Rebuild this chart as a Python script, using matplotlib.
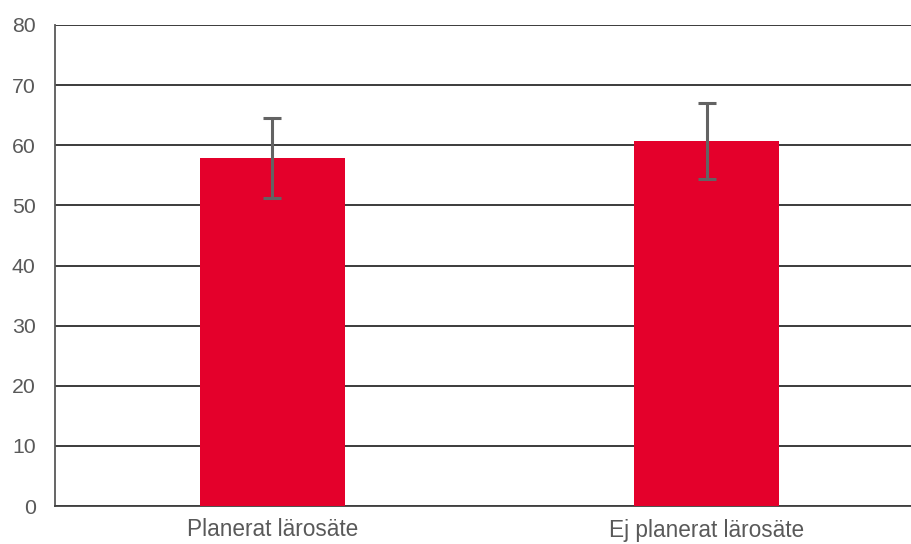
import matplotlib
matplotlib.use('Agg')
import matplotlib.pyplot as plt

# Data
kategorier = ['Planerat lärosäte', 'Ej planerat lärosäte']
medel = [57.9, 60.7]
fel = [6.6, 6.3]
yticks = [0, 10, 20, 30, 40, 50, 60, 70, 80]

plt.rcParams['font.family'] = ['Liberation Sans', 'DejaVu Sans']

fig = plt.figure(figsize=(9.12, 5.44), dpi=100)
# axes reaches past the right edge, like the original
ax = fig.add_axes([55 / 912, 1 - 506 / 544, 869 / 912, 481 / 544])

pos = range(len(kategorier))
ax.bar(pos, medel, width=0.334, color='#E4002B', zorder=3)
ax.errorbar(pos, medel, yerr=fel, fmt='none', ecolor='#636363',
            elinewidth=2.2, capsize=6.5, capthick=2.2, zorder=4)

ax.set_xlim(-0.5, 1.5)
ax.set_ylim(0, 80)
ax.set_yticks(yticks)
ax.set_xticks(list(pos))
ax.set_xticklabels(kategorier)
ax.yaxis.grid(True, color='#1a1a1a', linewidth=1.2, zorder=0)
ax.set_axisbelow(True)

for side in ['top', 'right']:
    ax.spines[side].set_visible(False)
ax.spines['left'].set_color('#595959')
ax.spines['left'].set_linewidth(1.3)
ax.spines['bottom'].set_color('#404040')
ax.spines['bottom'].set_linewidth(1.3)

ax.tick_params(axis='y', length=0, pad=14, labelsize=15.3, labelcolor='#595959')
ax.tick_params(axis='x', length=0, pad=9, labelsize=16.3, labelcolor='#595959')

fig.savefig('out.png', dpi=100)
